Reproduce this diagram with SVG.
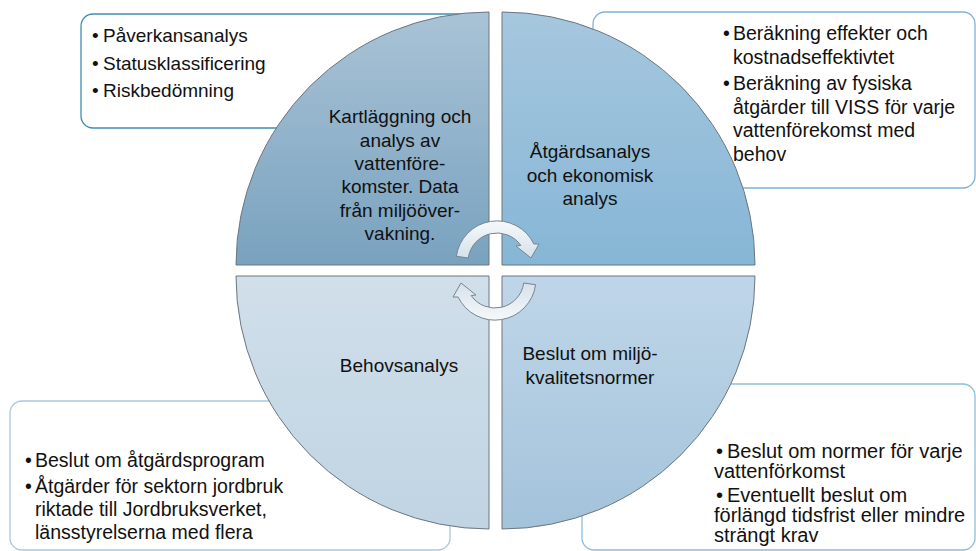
<svg xmlns="http://www.w3.org/2000/svg" width="976" height="551" viewBox="0 0 976 551">
<style>
text{font-family:"Liberation Sans",Arial,sans-serif;fill:#111;}
.c{font-size:19px;text-anchor:middle;}
.b{font-size:19px;}
.box{fill:#fff;stroke-width:1.3;}
.q{stroke:#6b7681;stroke-width:1;}
.arr{fill:url(#ga);stroke:#77858f;stroke-width:1;}
</style>
<defs>
<linearGradient id="gtl" x1="0" y1="0" x2="0" y2="1"><stop offset="0" stop-color="#a9c3d6"/><stop offset="1" stop-color="#79a2bf"/></linearGradient>
<linearGradient id="gtr" x1="0" y1="0" x2="0" y2="1"><stop offset="0" stop-color="#a6c7de"/><stop offset="1" stop-color="#86b6d6"/></linearGradient>
<linearGradient id="gbl" x1="0" y1="0" x2="0" y2="1"><stop offset="0" stop-color="#d0dfea"/><stop offset="1" stop-color="#c0d4e3"/></linearGradient>
<linearGradient id="gbr" x1="0" y1="0" x2="0" y2="1"><stop offset="0" stop-color="#bfd6e8"/><stop offset="1" stop-color="#a3c3db"/></linearGradient>
<linearGradient id="ga" x1="0" y1="0" x2="0" y2="1"><stop offset="0" stop-color="#f6f9fb"/><stop offset="1" stop-color="#d6e1ea"/></linearGradient>
</defs>

<g id="box-tl">
<rect class="box" x="81" y="14" width="400" height="114" rx="12" stroke="#3f8db4"/>
<text class="b" x="92" y="42">•</text><text class="b" x="103" y="42">Påverkansanalys</text>
<text class="b" x="92" y="69.5">•</text><text class="b" x="103" y="69.5">Statusklassificering</text>
<text class="b" x="92" y="97">•</text><text class="b" x="103" y="97">Riskbedömning</text>
</g>

<g id="box-tr">
<rect class="box" x="593" y="12" width="382" height="176" rx="12" stroke="#80b3d7"/>
<g style="font-size:19.5px">
<text class="b" style="font-size:19.5px" x="723" y="40">•</text><text class="b" style="font-size:19.5px" x="733" y="40">Beräkning effekter och</text>
<text class="b" style="font-size:19.5px" x="733" y="63.5">kostnadseffektivtet</text>
<text class="b" style="font-size:19.5px" x="723" y="90">•</text><text class="b" style="font-size:19.5px" x="733" y="90">Beräkning av fysiska</text>
<text class="b" style="font-size:19.5px" x="733" y="113.5">åtgärder till VISS för varje</text>
<text class="b" style="font-size:19.5px" x="733" y="137">vattenförekomst med</text>
<text class="b" style="font-size:19.5px" x="733" y="161">behov</text>
</g>
</g>

<g id="box-bl">
<rect class="box" x="10" y="401" width="440" height="149" rx="12" stroke="#a9c9df"/>
<text class="b" style="font-size:19.5px" x="25" y="467">•</text><text class="b" style="font-size:19.5px" x="35" y="467">Beslut om åtgärdsprogram</text>
<text class="b" style="font-size:19.5px" x="25" y="493">•</text><text class="b" style="font-size:19.5px" x="35" y="493">Åtgärder för sektorn jordbruk</text>
<text class="b" style="font-size:19.5px" x="35" y="515.5">riktade till Jordbruksverket,</text>
<text class="b" style="font-size:19.5px" x="35" y="538.5">länsstyrelserna med flera</text>
</g>

<g id="box-br">
<rect class="box" x="582" y="384" width="393" height="166" rx="12" stroke="#8fbddb"/>
<text class="b" style="font-size:20px" x="716" y="458">•</text><text class="b" style="font-size:20px" x="727" y="458">Beslut om normer för varje</text>
<text class="b" style="font-size:20px" x="714" y="478">vattenförkomst</text>
<text class="b" style="font-size:20px" x="716" y="502">•</text><text class="b" style="font-size:20px" x="727" y="502">Eventuellt beslut om</text>
<text class="b" style="font-size:20px" x="714" y="522">förlängd tidsfrist eller mindre</text>
<text class="b" style="font-size:20px" x="714" y="542">strängt krav</text>
</g>

<g id="q-tl">
<path class="q" fill="url(#gtl)" d="M489 265 L236 265 A253 253 0 0 1 489 12 Z"/>
<text class="c" x="400" y="123">Kartläggning och</text>
<text class="c" x="400" y="146.5">analys av</text>
<text class="c" x="400" y="170">vattenföre-</text>
<text class="c" x="400" y="193">komster. Data</text>
<text class="c" x="400" y="216.5">från miljööver-</text>
<text class="c" x="400" y="240">vakning.</text>
</g>

<g id="q-tr">
<path class="q" fill="url(#gtr)" d="M502 265 L502 12 A253 253 0 0 1 755 265 Z"/>
<text class="c" x="590" y="158">Åtgärdsanalys</text>
<text class="c" x="590" y="182">och ekonomisk</text>
<text class="c" x="590" y="205">analys</text>
</g>

<g id="q-br">
<path class="q" fill="url(#gbr)" d="M502 276 L755 276 A253 253 0 0 1 502 529 Z"/>
<text class="c" x="590" y="360">Beslut om miljö-</text>
<text class="c" x="590" y="383.5">kvalitetsnormer</text>
</g>

<g id="q-bl">
<path class="q" fill="url(#gbl)" d="M489 276 L489 529 A253 253 0 0 1 236 276 Z"/>
<text class="c" x="399" y="372">Behovsanalys</text>
</g>

<g id="connectors">
<path class="arr" d="M456.4 256.3 A41 41 0 0 1 533.9 244 L539 244 L531 258 L516 246 L520.8 245.4 A29 29 0 0 0 468.3 258 Z"/>
<path class="arr" transform="rotate(180 496 270.5)" d="M456.4 256.3 A41 41 0 0 1 533.9 244 L539 244 L531 258 L516 246 L520.8 245.4 A29 29 0 0 0 468.3 258 Z"/>
</g>
</svg>
